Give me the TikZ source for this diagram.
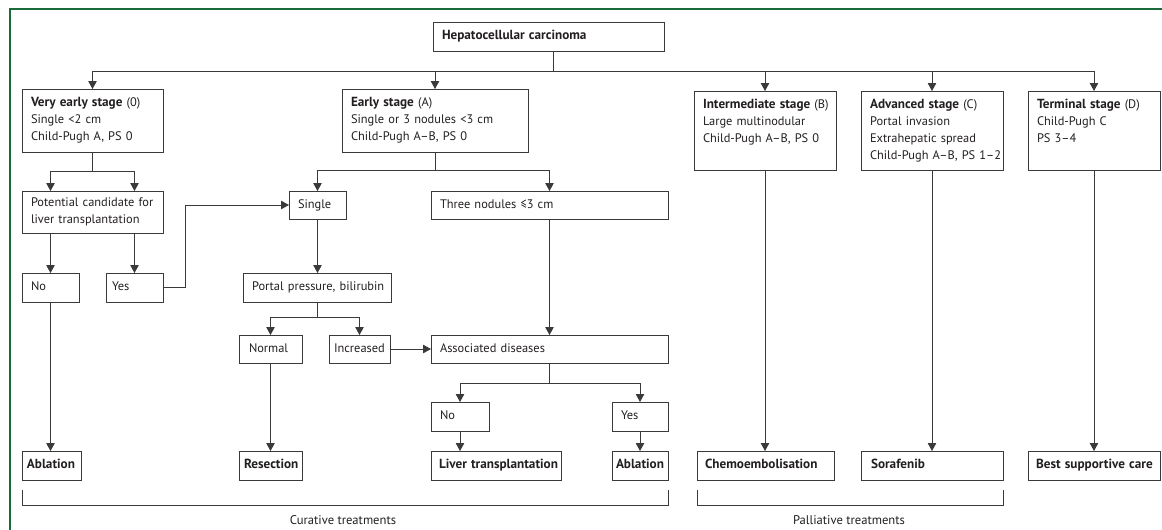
\documentclass[tikz,border=0pt]{standalone}
\usepackage{fontspec}
\setmainfont{PT Sans}[BoldFeatures={Scale=1.065}]
\usetikzlibrary{arrows.meta}
\definecolor{ln}{HTML}{3A3A3A}
\definecolor{tx}{HTML}{231F20}
\definecolor{framegreen}{HTML}{1B6B3A}
\newcommand\mybox[7][9]{%
  \pgfmathsetmacro\bw{#5-#3-2*#1}%
  \pgfmathsetmacro\bh{#6-#4}%
  \node[box, inner xsep=#1pt, text width=\bw pt, minimum height=\bh pt] (#2) at (#3,#4)
    {\begin{tabular}{@{}l@{}}#7\end{tabular}};}
\begin{document}
\begin{tikzpicture}[x=1pt,y=-1pt,
  box/.style={draw=ln, line width=0.9pt, anchor=north west, align=left, inner ysep=0pt,
    outer sep=0pt, text=tx, font=\fontsize{12.4}{17}\selectfont},
  arr/.style={draw=ln, line width=0.9pt, -{Triangle[width=8.5pt,length=8pt]}},
  lnst/.style={draw=ln, line width=0.9pt},
  lab/.style={text=tx, font=\fontsize{12.6}{14}\selectfont, inner sep=0pt}]
\useasboundingbox (0,0) rectangle (1162,530);
\draw[framegreen, line width=1.2pt] (10,530) -- (10,9) -- (1162,9);

% nodes
\mybox{hcc}{433}{22}{664}{51}{\textbf{Hepatocellular carcinoma}}
\mybox{ve}{22}{89}{163}{152}{\textbf{Very early stage} (0)\\Single <2 cm\\Child-Pugh A, PS 0}
\mybox{early}{342}{89}{528}{152}{\textbf{Early stage} (A)\\Single or 3 nodules <3 cm\\Child-Pugh A–B, PS 0}
\mybox{inter}{694}{91}{836}{170}{\textbf{Intermediate stage} (B)\\Large multinodular\\Child-Pugh A–B, PS 0\\\mbox{}}
\mybox{adv}{861}{91}{1003}{170}{\textbf{Advanced stage} (C)\\Portal invasion\\Extrahepatic spread\\Child-Pugh A–B, PS 1–2}
\mybox{term}{1028}{91}{1160}{170}{\textbf{Terminal stage} (D)\\Child-Pugh C\\PS 3–4\\\mbox{}}
\mybox{pc}{22}{191}{163}{233}{Potential candidate for\\liver transplantation}
\mybox{no}{22}{273}{79}{302}{No}
\mybox[6]{yes}{106}{273}{163}{302}{Yes}
\mybox{single}{289}{191}{346}{219}{Single}
\mybox{three}{431}{191}{668}{219}{Three nodules ≤3 cm}
\mybox{portal}{243}{273}{391}{302}{Portal pressure, bilirubin}
\mybox[10]{normal}{239}{335}{302}{363}{Normal}
\mybox[5]{incr}{329}{335}{390}{363}{Increased}
\mybox{assoc}{431}{335}{668}{363}{Associated diseases}
\mybox{no2}{431}{402}{489}{431}{No}
\mybox{yes2}{612}{402}{668}{431}{Yes}
\mybox[5]{abl1}{22}{451}{81}{480}{\textbf{Ablation}}
\mybox[5]{res}{239}{451}{302}{480}{\textbf{Resection}}
\mybox[8]{lt}{431}{451}{561}{480}{\textbf{Liver transplantation}}
\mybox[4]{abl2}{612}{451}{668}{480}{\textbf{Ablation}}
\mybox[8]{chemo}{697}{451}{834}{480}{\textbf{Chemoembolisation}}
\mybox[10]{sora}{861}{451}{1003}{480}{\textbf{Sorafenib}}
\mybox[8]{bsc}{1028}{451}{1160}{480}{\textbf{Best supportive care}}

% connectors
\coordinate (bus) at (553,71);
\draw[lnst] (bus |- hcc.south) -- (bus);
\foreach \t in {ve,early,inter,adv,term}
  \draw[arr] (bus) -| (\t.north);

\coordinate (b1) at (92.5,171);
\draw[lnst] (ve.south) -- (b1);
\draw[arr] (b1) -| (no.north |- pc.north);
\draw[arr] (b1) -| (yes.north |- pc.north);
\draw[arr] (pc.south -| no.north) -- (no.north);
\draw[arr] (pc.south -| yes.north) -- (yes.north);
\draw[arr] (yes.east) -- (185,287.5) |- (single.west);

\coordinate (b2) at (435,170);
\draw[lnst] (early.south) -- (b2);
\draw[arr] (b2) -| (single.north);
\draw[arr] (b2) -| (three.north);

\draw[arr] (single.south) -- (single.south |- portal.north);
\coordinate (b3) at (317.5,317);
\draw[lnst] (single.south |- portal.south) -- (b3);
\draw[arr] (b3) -| (normal.north);
\draw[arr] (b3) -| (incr.north);
\draw[arr] (incr.east) -- (assoc.west);
\draw[arr] (three.south) -- (assoc.north);

\coordinate (b4) at (549.5,383);
\draw[lnst] (assoc.south) -- (b4);
\draw[arr] (b4) -| (no2.north);
\draw[arr] (b4) -| (yes2.north);
\draw[arr] (no2.south) -- (no2.south |- lt.north);
\draw[arr] (yes2.south) -- (abl2.north);

\draw[arr] (no.south) -- (no.south |- abl1.north);
\draw[arr] (normal.south) -- (normal.south |- res.north);
\draw[arr] (inter.south) -- (inter.south |- chemo.north);
\draw[arr] (adv.south) -- (sora.north);
\draw[arr] (term.south) -- (bsc.north);

% brackets
\draw[lnst] (22,490) |- (668,505) -- (668,490);
\draw[lnst] (697,490) |- (1003,505) -- (1003,490);
\node[lab] (cur) at (343,520) {Curative treatments};
\node[lab] (pal) at (849,520) {Palliative treatments};
\end{tikzpicture}
\end{document}
